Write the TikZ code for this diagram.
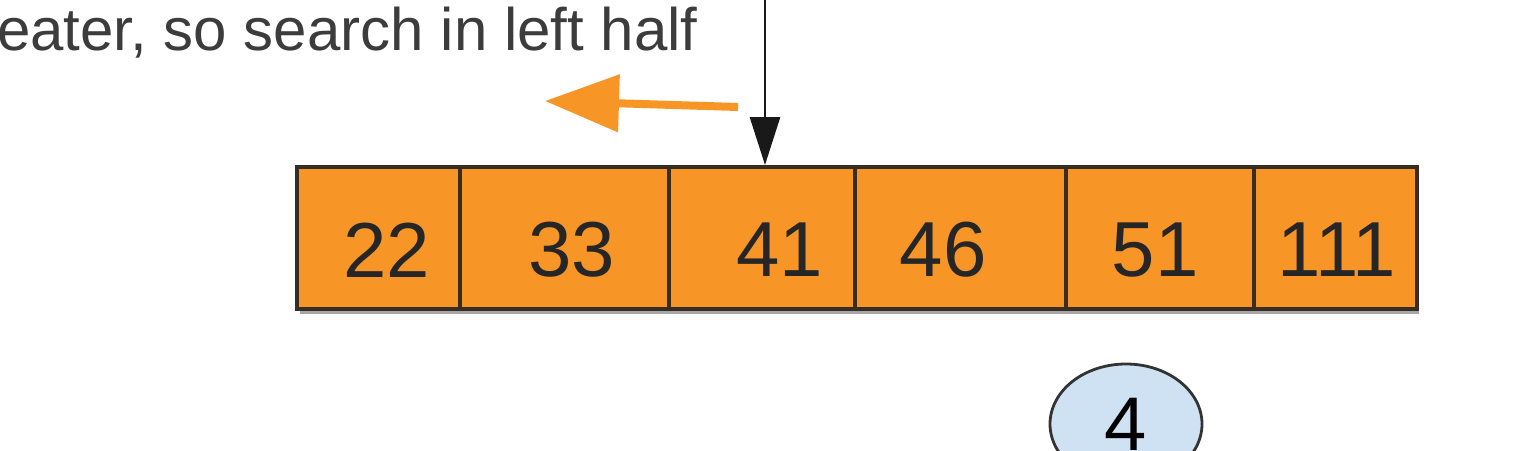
\documentclass[tikz,border=0pt]{standalone}
\usepackage{fontspec}
\setmainfont{Liberation Sans}
\usetikzlibrary{arrows.meta,shapes.geometric}
\definecolor{cellorange}{RGB}{247,150,38}
\definecolor{celledge}{RGB}{55,45,35}
\definecolor{ovalblue}{RGB}{207,226,243}
\definecolor{txtgray}{RGB}{60,60,60}
\tikzset{
  cell/.style={draw=celledge, line width=2pt, fill=cellorange, minimum height=71pt, inner sep=0pt},
  num/.style={font=\fontsize{39}{39}\selectfont, text=black!85, inner sep=0pt, anchor=center},
  oval/.style={ellipse, draw=black!80, line width=1.4pt, fill=ovalblue, minimum width=76pt, minimum height=60pt, inner sep=0pt},
  note/.style={font=\fontsize{30}{30}\selectfont, text=txtgray, inner sep=0pt, anchor=base east},
  orangearrow/.style={draw=cellorange, line width=4pt, -{Triangle[length=37pt,width=28pt]}},
  blackarrow/.style={draw=black!90, line width=1.4pt, -{Triangle[length=24pt,width=15pt]}}
}
\begin{document}
\begin{tikzpicture}[x=0.5pt,y=-0.5pt]
\useasboundingbox (0,0) rectangle (1514,450);
% note text
\node[note] (note) at (698,50) {greater, so search in left half};
% shadow
\fill[black!35] (300,172) rectangle (1419,314);
% cells
\node[cell, minimum width=81.5pt] (c1) at (378.5,238) {};
\node[cell, minimum width=104.5pt] (c2) at (564.5,238) {};
\node[cell, minimum width=93pt] (c3) at (762,238) {};
\node[cell, minimum width=105.5pt] (c4) at (960.5,238) {};
\node[cell, minimum width=94pt] (c5) at (1160,238) {};
\node[cell, minimum width=81.5pt] (c6) at (1335.5,238) {};
\node[num] (n1) at (387,250) {22};
\node[num] (n2) at (572,250) {33};
\node[num] (n3) at (780,250) {41};
\node[num] (n4) at (943,250) {46};
\node[num] (n5) at (1155,250) {51};
\node[num] (n6) at (1337,250) {111};
% arrows
\coordinate (ptop) at (765,-5);
\draw[blackarrow] (ptop) -- (ptop |- c3.north);
\coordinate (ostart) at (738,107);
\coordinate (oend) at (545,101);
\draw[orangearrow] (ostart) -- (oend);
% oval
\node[oval] (o4) at (1126,424) {\fontsize{38}{38}\selectfont 4};
\end{tikzpicture}
\end{document}
